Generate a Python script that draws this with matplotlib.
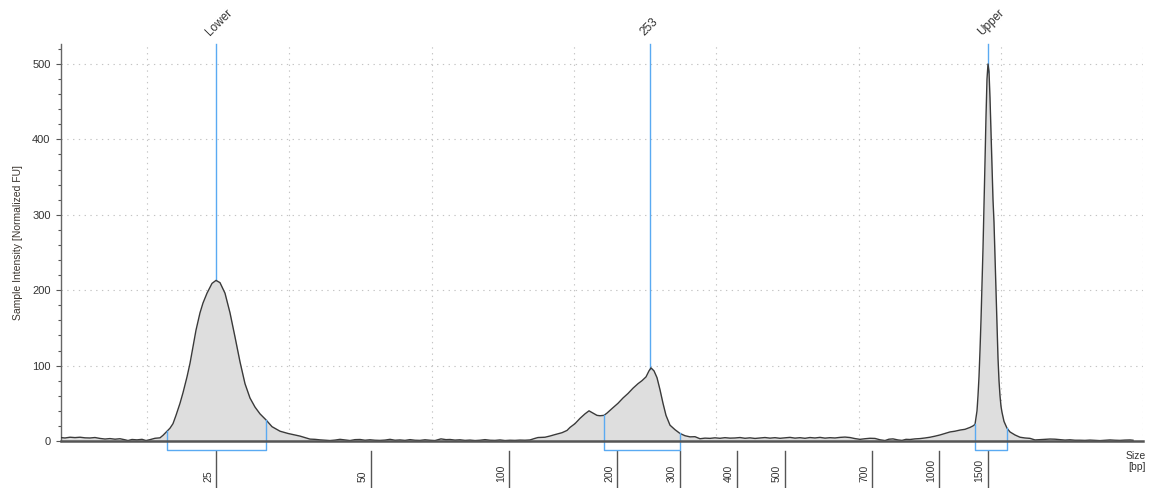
import numpy as np
import matplotlib
matplotlib.use("Agg")
import matplotlib.pyplot as plt
import matplotlib.transforms as mtransforms

plt.rcParams['font.family'] = ['Liberation Sans', 'DejaVu Sans']

# Electropherogram trace: migration position vs. normalized fluorescence
position = [
    61, 65, 70, 75, 80, 85, 90, 95, 100, 105, 110, 115, 120, 125, 128, 132, 137, 142, 146, 150,
    155, 160, 163, 167, 170, 173, 176, 180, 183, 187, 190, 193, 196, 200, 203, 207, 212, 216, 220, 225,
    230, 235, 240, 245, 250, 255, 260, 266, 272, 280, 288, 295, 300, 305, 310, 315, 320, 325, 330, 335,
    340, 345, 350, 355, 360, 365, 370, 375, 380, 385, 390, 395, 400, 405, 410, 415, 420, 425, 430, 435,
    441, 446, 450, 455, 460, 465, 470, 475, 480, 485, 490, 495, 500, 505, 510, 515, 520, 525, 530, 535,
    538, 545, 550, 555, 562, 567, 570, 575, 580, 585, 589, 593, 597, 600, 604, 607, 612, 618, 623, 628,
    633, 638, 642, 646, 649, 651, 654, 657, 660, 663, 666, 670, 675, 680, 685, 690, 695, 700, 705, 710,
    715, 720, 725, 730, 735, 740, 745, 750, 755, 760, 765, 770, 775, 780, 785, 790, 795, 800, 805, 810,
    815, 820, 825, 830, 835, 840, 845, 850, 855, 860, 865, 870, 875, 880, 885, 889, 893, 898, 902, 906,
    910, 915, 920, 925, 930, 935, 940, 945, 950, 955, 960, 965, 970, 973, 975, 977, 978, 979, 980, 981,
    982, 983, 984, 985, 986, 987, 988, 989, 990, 991, 992, 993, 994, 995, 996, 997, 998, 999, 1000, 1001,
    1002, 1004, 1007, 1010, 1015, 1020, 1025, 1030, 1035, 1040, 1045, 1050, 1055, 1060, 1065, 1070, 1075, 1080, 1085, 1090,
    1095, 1100, 1105, 1110, 1115, 1120, 1125, 1130, 1133,
]
intensity = [
    4.5, 4.0, 5.0, 4.5, 5.0, 4.2, 4.0, 4.6, 3.4, 2.6, 3.2, 2.4, 3.0, 1.6, 0.6, 2.0, 1.5, 2.2, 0.6, 1.8,
    3.6, 4.2, 7.5, 13, 17, 23, 34, 50, 64, 85, 103, 125, 147, 170, 183, 196, 209, 213, 210, 196,
    170, 138, 105, 76, 57, 45, 36, 28, 19, 13, 10, 8, 6.5, 4.5, 2.5, 2.2, 1.5, 1.0, 0.6, 1.2,
    2.2, 1.4, 0.6, 1.8, 2.0, 1.0, 1.6, 1.0, 0.8, 1.2, 2.2, 1.0, 1.4, 0.8, 1.8, 1.0, 0.8, 1.6, 1.0, 0.6,
    2.8, 1.8, 2.0, 1.2, 1.6, 0.8, 1.2, 0.6, 1.0, 1.8, 1.0, 0.8, 1.4, 0.6, 1.0, 0.8, 1.2, 1.0, 1.4, 3.5,
    4.6, 5.0, 6.6, 8.5, 11, 14, 18, 23, 30, 36, 40, 37, 34, 33.5, 34, 37, 43, 50, 57, 63,
    70, 76, 80, 85, 93, 97, 93, 84, 68, 50, 34, 21, 15, 10, 7, 5.5, 5.7, 3.0, 3.8, 3.5,
    4.2, 3.6, 4.4, 3.8, 4.0, 4.6, 3.6, 4.2, 3.4, 4.0, 4.6, 3.8, 4.4, 3.6, 4.2, 4.8, 3.8, 4.4, 3.6, 4.6,
    4.0, 4.8, 3.8, 4.4, 4.0, 4.8, 5.2, 4.6, 3.2, 2.2, 3.0, 3.6, 3.4, 1.6, 0.6, 2.4, 2.8, 1.4, 0.8, 2.2,
    2.0, 2.8, 3.2, 4.0, 5.0, 6.4, 8.0, 10, 12, 13, 14.5, 15.5, 18, 20, 22, 40, 60, 85, 120, 160,
    205, 255, 310, 370, 430, 480, 500, 490, 455, 410, 365, 320, 290, 245, 195, 150, 110, 80, 60, 46,
    38, 26, 17, 12, 8, 5, 4, 3.5, 1.4, 1.8, 2.2, 2.6, 2.4, 1.8, 1.2, 1.6, 1.0, 1.0, 0.8, 1.2,
    0.8, 0.5, 1.0, 1.4, 1.0, 0.8, 1.2, 1.4, 1.0,
]

# Size ladder: base-pair sizes and their migration positions
ladder_bp = [25, 50, 100, 200, 300, 400, 500, 700, 1000, 1500]
ladder_pos = [216, 371, 509, 617, 680, 737, 785, 872, 939, 987.5]

# Called peaks (size in bp) and their captions
peak_bp = [25, 253, 1500]
peak_names = ["Lower", "253", "Upper"]

# Integration regions (start, end positions)
region_start = [167, 604, 975]
region_end = [266, 680, 1007]

y_ticks = [0, 100, 200, 300, 400, 500]

W, H = 1154, 488
fig = plt.figure(figsize=(W / 100, H / 100), dpi=100)
ax_left, ax_right, ax_top, ax_bottom = 61, 1143, 44, 441
ax = fig.add_axes([ax_left / W, 1 - ax_bottom / H, (ax_right - ax_left) / W, (ax_bottom - ax_top) / H])

x_min, x_max = 61, 1143
y_top = 526.5
ax.set_xlim(x_min, x_max)
ax.set_ylim(0, y_top)

blue = '#5aaaf2'
txt = '#333333'
grid_kw = dict(color='#c4c4c4', lw=0.8, linestyle=(0, (1.2, 4)), zorder=0)

# dotted grid
for gy in y_ticks[1:]:
    ax.axhline(gy, **grid_kw)
gx = 147.0
while gx <= x_max + 1:
    ax.axvline(gx, **grid_kw)
    gx += 142.3

# trace
pos = np.array(position, dtype=float)
val = np.array(intensity, dtype=float)
ax.fill_between(pos, val, 0, color='#dedede', lw=0, zorder=1)
ax.plot(pos, val, color='#3a3a3a', lw=1.0, zorder=3)

# peak markers
for bp, name in zip(peak_bp, peak_names):
    px = np.interp(bp, ladder_bp, ladder_pos)
    py = np.interp(px, pos, val)
    ax.plot([px, px], [py, y_top], color=blue, lw=1.0, zorder=2, clip_on=False)
    ax.annotate(name, xy=(px, 1), xycoords=('data', 'axes fraction'),
                xytext=(-4, 6), textcoords='offset points', rotation=45,
                rotation_mode='anchor', ha='left', va='baseline',
                fontsize=8.5, color=txt, annotation_clip=False)

# integration brackets
bracket_y = -(450 - ax_bottom) / 0.754
for a, b in zip(region_start, region_end):
    ya = np.interp(a, pos, val)
    yb = np.interp(b, pos, val)
    ax.plot([a, a, b, b], [ya, bracket_y, bracket_y, yb], color=blue, lw=1.0,
            clip_on=False, zorder=4)

# spines and y ticks
for s in ('top', 'right'):
    ax.spines[s].set_visible(False)
ax.spines['left'].set_color('#666666')
ax.spines['left'].set_linewidth(1.0)
ax.spines['bottom'].set_color('#555555')
ax.spines['bottom'].set_linewidth(1.8)
ax.spines['bottom'].set_zorder(5)

ax.set_yticks(y_ticks)
ax.set_yticks(np.arange(0, 521, 20), minor=True)
ax.tick_params(axis='y', which='major', length=3.5, width=0.8, color='#555555',
               labelsize=8, labelcolor=txt, pad=4)
ax.tick_params(axis='y', which='minor', length=2, width=0.8, color='#555555')
ax.set_xticks([])

# size ladder ticks below the axis
trans = mtransforms.blended_transform_factory(ax.transData, ax.transAxes)
ax_h = ax_bottom - ax_top
t0 = -(451 - ax_bottom) / ax_h
t1 = -(488 - ax_bottom) / ax_h
lab_y = -(482 - ax_bottom) / ax_h
offset = mtransforms.ScaledTranslation(-3 / 100, 0, fig.dpi_scale_trans)
for bp, lx in zip(ladder_bp, ladder_pos):
    ax.plot([lx, lx], [t0, t1], transform=trans, color='#555555', lw=1.0, clip_on=False)
    ax.text(lx, lab_y, str(bp), transform=trans + offset, rotation=90,
            ha='right', va='bottom', fontsize=7.5, color=txt)

fig.text(1146 / W, 1 - 451 / H, "Size\n[bp]", ha='right', va='top',
         fontsize=7.5, color=txt, linespacing=1.15, multialignment='right')
fig.text(18 / W, 1 - 242 / H, "Sample Intensity [Normalized FU]", rotation=90,
         ha='center', va='center', fontsize=7.5, color='#3a342e')

fig.savefig("out.png", dpi=100)
